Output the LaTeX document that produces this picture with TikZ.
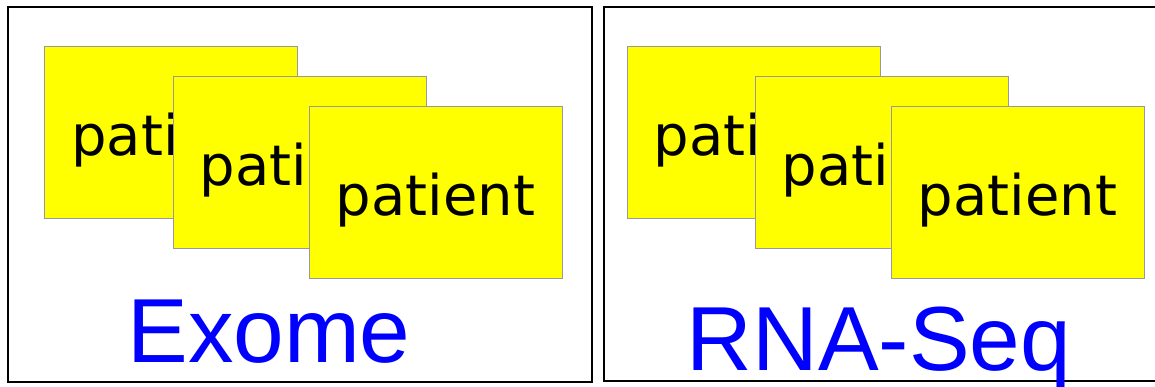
\documentclass[tikz,border=0pt]{standalone}
\usepackage{fontspec}
\newfontfamily\patfont{DejaVu Sans}
\newfontfamily\labfont{Liberation Sans}
\definecolor{boxgray}{HTML}{999999}
\definecolor{boxyellow}{HTML}{FFFF00}
\definecolor{labblue}{HTML}{0000FF}
\tikzset{
  panel/.style={draw=black, line width=2pt, fill=none, inner sep=0pt},
  pbox/.style={draw=boxgray, line width=1pt, fill=boxyellow, inner sep=0pt,
    minimum width=253pt, minimum height=172pt, text height=46pt, text depth=0pt,
    font=\patfont\fontsize{56}{60}\selectfont},
  lab/.style={anchor=base, inner sep=0pt, text=labblue,
    font=\labfont\fontsize{91}{96}\selectfont}
}
\begin{document}
\begin{tikzpicture}[x=1pt,y=-1pt]
\useasboundingbox (0,0) rectangle (1155,386);
\fill[white] (0,0) rectangle (1155,386);
% panels
\node[panel, minimum width=584pt, minimum height=375pt] (L) at (300,194.5) {};
\node[panel, minimum width=556pt, minimum height=374pt] (R) at (882,194) {};
% left stack
\node[pbox] (l1) at (171,132) {patient};
\node[pbox] (l2) at (299.5,162) {patient};
\node[pbox] (l3) at (435.5,192) {patient};
% right stack
\node[pbox] (r1) at (753.5,132) {patient};
\node[pbox] (r2) at (881.5,162) {patient};
\node[pbox] (r3) at (1017.5,192) {patient};
% labels
\node[lab] (exome) at (269,362) {Exome};
\node[lab] (rna) at (879,370) {RNA-Seq};
\end{tikzpicture}
\end{document}
